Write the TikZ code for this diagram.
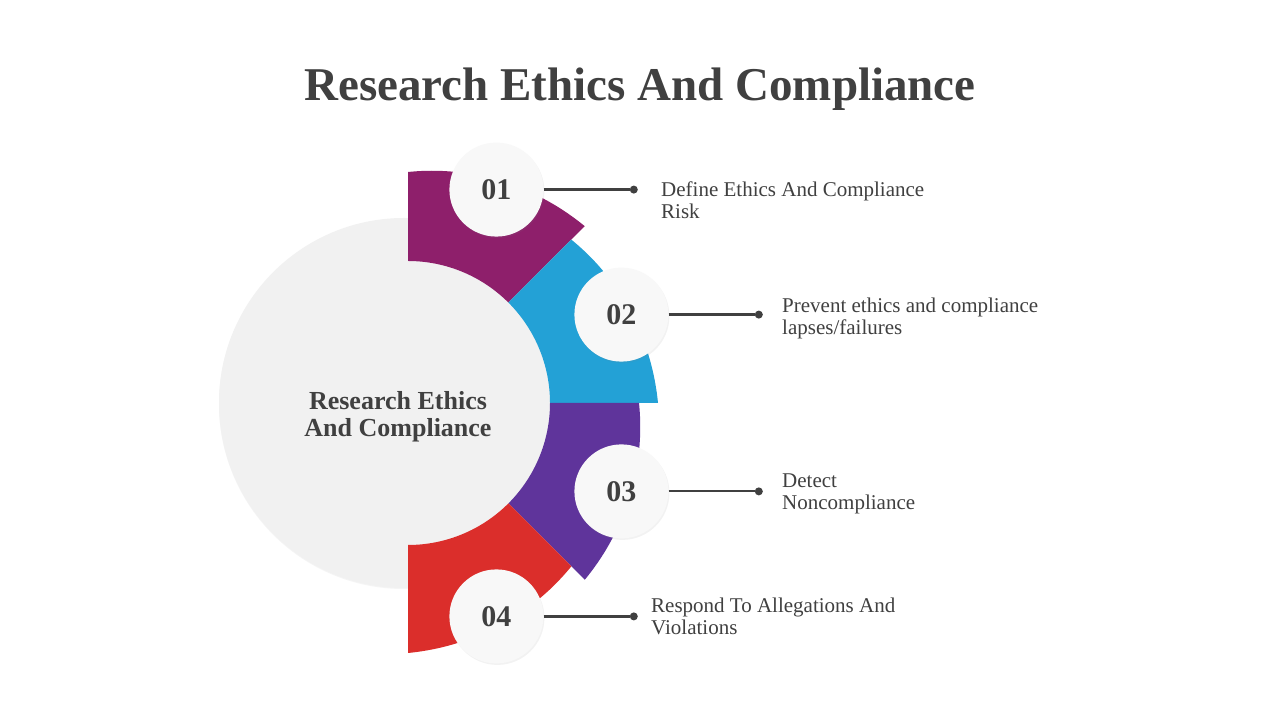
\documentclass[tikz,border=0pt]{standalone}
\usepackage{fontspec}
\setmainfont{Liberation Serif}
\usetikzlibrary{positioning,shadows}
\definecolor{ink}{HTML}{404040}
\definecolor{hubgray}{HTML}{F1F1F1}
\definecolor{badge}{HTML}{F8F8F8}
\definecolor{segA}{HTML}{8E1F6B}
\definecolor{segB}{HTML}{23A1D6}
\definecolor{segC}{HTML}{5F349B}
\definecolor{segD}{HTML}{DB2E2B}
\begin{document}
\begin{tikzpicture}[x=1pt,y=1pt,
  numbadge/.style={circle, fill=badge, minimum size=94pt, inner sep=0pt, text=ink,
    font=\fontsize{30}{30}\selectfont\bfseries,
    drop shadow={opacity=0.10, shadow xshift=1pt, shadow yshift=-1.5pt}},
  pin/.style={circle, fill=ink, minimum size=8pt, inner sep=0pt},
  desc/.style={anchor=west, align=left, inner sep=0pt, text=ink,
    font=\fontsize{21}{22}\selectfont},
  link/.style={draw=ink, line width=2.2pt}]
\useasboundingbox (0,0) rectangle (1280,720);
\fill[white] (0,0) rectangle (1280,720);

\node[text=ink, font=\fontsize{47}{52}\selectfont\bfseries, anchor=base] (title) at (640,619)
{Research Ethics And Compliance};

\coordinate (ctr) at (408,317);
\fill[hubgray, drop shadow={opacity=0.08, shadow xshift=0pt, shadow yshift=-1pt}] (404,317) circle[radius=185];
\node[align=center, text=ink, font=\fontsize{26}{27}\selectfont\bfseries] (hub) at (398,303)
{Research Ethics\\And Compliance};

\begin{scope}[shift={(ctr)}]
\foreach \col [count=\k from 0] in {segA,segB,segC,segD}{
  \pgfmathsetmacro\aa{90-45*\k}
  \pgfmathsetmacro\ab{\aa-45}
  \fill[\col] (\ab:142) arc[start angle=\ab, end angle=\aa, radius=142pt]
    -- plot[domain=\aa:\ab, samples=40] (\x:{231+19*(\aa-\x)/45}) -- cycle;
}
\end{scope}

\node[numbadge] (n1) at ([shift={(67.5:231)}]ctr) {01};
\node[numbadge] (n2) at ([shift={(22.5:231)}]ctr) {02};
\node[numbadge] (n3) at ([shift={(-22.5:231)}]ctr) {03};
\node[numbadge] (n4) at ([shift={(-67.5:231)}]ctr) {04};

\node[pin, right=86 of n1] (d1) {};
\node[pin, right=86 of n2] (d2) {};
\node[pin, right=86 of n3] (d3) {};
\node[pin, right=86 of n4] (d4) {};

\draw[link] (n1) -- (d1);
\draw[link] (n2) -- (d2);
\draw[link] (n3) -- (d3);
\draw[link] (n4) -- (d4);

\node[desc] (t1) at (661,520) {Define Ethics And Compliance\\Risk};
\node[desc] (t2) at (782,402) {Prevent ethics and compliance\\lapses/failures};
\node[desc] (t3) at (782,226) {Detect\\Noncompliance};
\node[desc] (t4) at (651,104) {Respond To Allegations And\\Violations};
\end{tikzpicture}
\end{document}
